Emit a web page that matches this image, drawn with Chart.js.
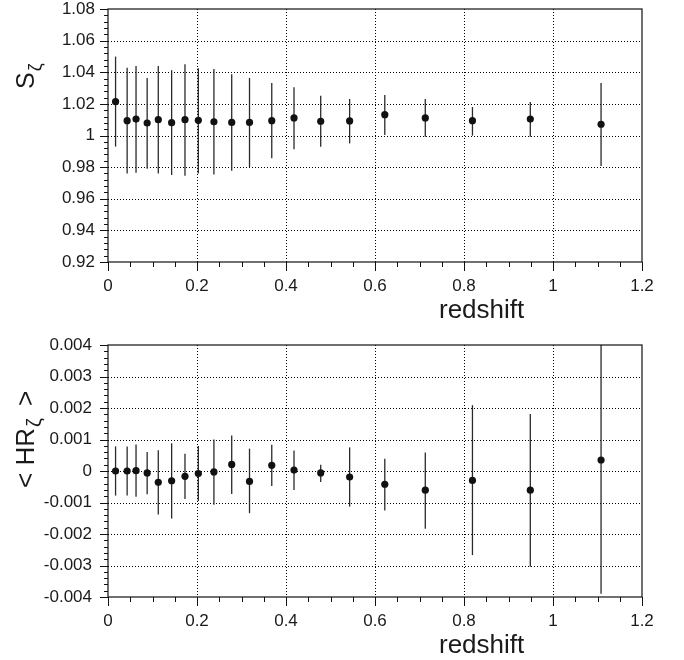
<!DOCTYPE html>
<html>
<head>
<meta charset="utf-8">
<script src="https://cdn.jsdelivr.net/npm/chart.js@4.4.1/dist/chart.umd.min.js"></script>
<style>
  body { margin: 0; background: #fff; }
  #wrap { position: relative; width: 684px; height: 660px; }
  canvas { position: absolute; left: 0; }
</style>
</head>
<body>
<div id="wrap">
  <canvas id="graficoS" width="684" height="330" style="top:0"></canvas>
  <canvas id="graficoHR" width="684" height="330" style="top:330px"></canvas>
</div>
<script>
// redshift de cada bin
const redshift = [0.017, 0.043, 0.063, 0.088, 0.113, 0.143, 0.173, 0.203, 0.238, 0.278,
                  0.318, 0.368, 0.418, 0.478, 0.543, 0.622, 0.713, 0.819, 0.949, 1.108];

// painel de cima: S_zeta com barras de erro
const sZeta   = [1.0214, 1.0094, 1.0104, 1.0079, 1.0100, 1.0081, 1.0100, 1.0096, 1.0087, 1.0083,
                 1.0083, 1.0094, 1.0111, 1.0090, 1.0092, 1.0132, 1.0111, 1.0094, 1.0104, 1.0071];
const sZetaHi = [1.0499, 1.0429, 1.0440, 1.0364, 1.0440, 1.0413, 1.0450, 1.0425, 1.0420, 1.0387,
                 1.0364, 1.0332, 1.0305, 1.0252, 1.0231, 1.0256, 1.0231, 1.0180, 1.0212, 1.0332];
const sZetaLo = [0.9930, 0.9760, 0.9765, 0.9790, 0.9760, 0.9750, 0.9746, 0.9760, 0.9754, 0.9777,
                 0.9800, 0.9856, 0.9913, 0.9929, 0.9950, 1.0003, 0.9992, 0.9999, 0.9992, 0.9807];

// painel de baixo: <HR_zeta> com barras de erro
const hrZeta   = [0, 0, 0.00001, -0.00006, -0.00036, -0.00031, -0.00017, -0.00008, -0.00003, 0.00021,
                  -0.00033, 0.00018, 0.00003, -0.00006, -0.00019, -0.00042, -0.00061, -0.0003, -0.00061, 0.00035];
const hrZetaHi = [0.00078, 0.00078, 0.00084, 0.0006, 0.00066, 0.00088, 0.00055, 0.00079, 0.0010, 0.00113,
                  0.00071, 0.00083, 0.00065, 0.0002, 0.00075, 0.00039, 0.00059, 0.00209, 0.00181, 0.0046];
const hrZetaLo = [-0.00078, -0.00078, -0.00082, -0.00074, -0.00138, -0.00151, -0.00089, -0.00095, -0.00107, -0.00073,
                  -0.00134, -0.00048, -0.0006, -0.00035, -0.00113, -0.00125, -0.00183, -0.00267, -0.00304, -0.0039];

// limites e passos dos eixos
const eixoX = { min: 0, max: 1.2, passo: 0.2, menor: 0.05 };
const eixoS = { min: 0.92, max: 1.08, passo: 0.02, menor: 0.004 };
const eixoHR = { min: -0.004, max: 0.004, passo: 0.001, menor: 0.0002 };

const fonte = '"Liberation Sans", Arial, Helvetica, sans-serif';

function fmt(v) {
    return String(Number(v.toFixed(6)));
}

// Plugin que desenha grade pontilhada, barras de erro, moldura, ticks e titulos
function criarPainel(cfg) {
    return {
        id: 'painel_' + cfg.nome,
        beforeDatasetsDraw(chart) {
            const ctx = chart.ctx, a = chart.chartArea;
            const sx = chart.scales.x, sy = chart.scales.y;
            ctx.save();
            ctx.strokeStyle = '#000';
            ctx.lineWidth = 1;
            ctx.setLineDash([1, 2]);
            sx.ticks.forEach(t => {
                const px = Math.round(sx.getPixelForValue(t.value)) + 0.5;
                if (px > a.left + 2 && px < a.right - 2) {
                    ctx.beginPath(); ctx.moveTo(px, a.top); ctx.lineTo(px, a.bottom); ctx.stroke();
                }
            });
            sy.ticks.forEach(t => {
                const py = Math.round(sy.getPixelForValue(t.value)) + 0.5;
                if (py > a.top + 2 && py < a.bottom - 2) {
                    ctx.beginPath(); ctx.moveTo(a.left, py); ctx.lineTo(a.right, py); ctx.stroke();
                }
            });
            ctx.setLineDash([]);
            // barras de erro
            ctx.beginPath();
            ctx.rect(a.left, a.top, a.width, a.height);
            ctx.clip();
            ctx.strokeStyle = '#2a2a2a';
            ctx.lineWidth = 1.3;
            cfg.x.forEach((z, i) => {
                const px = sx.getPixelForValue(z);
                ctx.beginPath();
                ctx.moveTo(px, sy.getPixelForValue(cfg.hi[i]));
                ctx.lineTo(px, sy.getPixelForValue(cfg.lo[i]));
                ctx.stroke();
            });
            ctx.restore();
        },
        afterDraw(chart) {
            const ctx = chart.ctx, a = chart.chartArea;
            const sx = chart.scales.x, sy = chart.scales.y;
            ctx.save();
            ctx.strokeStyle = '#111';
            ctx.lineWidth = 1.2;
            ctx.strokeRect(a.left, a.top, a.width, a.height);
            ctx.lineWidth = 1;
            // ticks do eixo x (para fora)
            const nx = Math.round((eixoX.max - eixoX.min) / eixoX.menor);
            for (let k = 0; k <= nx; k++) {
                const px = Math.round(sx.getPixelForValue(eixoX.min + k * eixoX.menor)) + 0.5;
                const maior = k % Math.round(eixoX.passo / eixoX.menor) === 0;
                ctx.beginPath(); ctx.moveTo(px, a.bottom); ctx.lineTo(px, a.bottom + (maior ? 9 : 5)); ctx.stroke();
            }
            // ticks do eixo y (para fora)
            const ey = cfg.eixo;
            const n = Math.round((ey.max - ey.min) / ey.menor);
            for (let k = 0; k <= n; k++) {
                const py = Math.round(sy.getPixelForValue(ey.min + k * ey.menor)) + 0.5;
                const maior = k % Math.round(ey.passo / ey.menor) === 0;
                ctx.beginPath(); ctx.moveTo(a.left, py); ctx.lineTo(a.left - (maior ? 8 : 4), py); ctx.stroke();
            }
            // titulo do eixo x
            ctx.fillStyle = '#1a1a1a';
            ctx.font = '26px ' + fonte;
            ctx.textAlign = 'left';
            ctx.textBaseline = 'alphabetic';
            ctx.fillText('redshift', 439, a.bottom + cfg.tituloX);
            // titulo do eixo y, girado, com subscrito zeta
            ctx.translate(34, cfg.tituloY);
            ctx.rotate(-Math.PI / 2);
            ctx.font = cfg.tamanho + 'px ' + fonte;
            ctx.fillText(cfg.antes, 0, 0);
            const w = ctx.measureText(cfg.antes).width;
            ctx.font = cfg.tamanhoZeta + 'px ' + fonte;
            ctx.fillText('\u03B6', w + 1, 7);
            if (cfg.depois) {
                ctx.font = cfg.tamanho + 'px ' + fonte;
                ctx.fillText(cfg.depois, w + cfg.gapDepois, 0);
            }
            ctx.restore();
        }
    };
}

function criarGrafico(id, cfg) {
    const pontos = cfg.x.map((z, i) => ({ x: z, y: cfg.y[i] }));
    return new Chart(document.getElementById(id), {
        type: 'scatter',
        data: {
            datasets: [{
                data: pontos,
                backgroundColor: '#111',
                borderColor: '#111',
                pointRadius: 3.6,
                pointBorderWidth: 0,
                showLine: false,
                clip: false
            }]
        },
        options: {
            responsive: false,
            animation: false,
            devicePixelRatio: 1,
            layout: { padding: { top: cfg.topo, right: 42, bottom: 0, left: 0 } },
            plugins: { legend: { display: false }, tooltip: { enabled: false } },
            scales: {
                x: {
                    type: 'linear', min: eixoX.min, max: eixoX.max,
                    grid: { display: false, drawTicks: false },
                    border: { display: false },
                    ticks: {
                        stepSize: eixoX.passo, padding: 16, color: '#1a1a1a',
                        font: { family: fonte, size: 17, lineHeight: 1 },
                        maxRotation: 0, callback: v => fmt(v)
                    },
                    afterFit: s => { s.height = cfg.alturaX; s.paddingLeft = 0; s.paddingRight = 0; }
                },
                y: {
                    type: 'linear', min: cfg.eixo.min, max: cfg.eixo.max,
                    grid: { display: false, drawTicks: false },
                    border: { display: false },
                    ticks: {
                        stepSize: cfg.eixo.passo, padding: cfg.padY, color: '#1a1a1a',
                        font: { family: fonte, size: 17, lineHeight: 1 },
                        callback: v => fmt(v)
                    },
                    afterFit: s => { s.width = 108; s.paddingTop = 0; s.paddingBottom = 0; }
                }
            }
        },
        plugins: [criarPainel(cfg)]
    });
}

criarGrafico('graficoS', {
    nome: 's', x: redshift, y: sZeta, hi: sZetaHi, lo: sZetaLo, eixo: eixoS,
    topo: 9, alturaX: 68, padY: 13, tituloX: 56, tituloY: 89,
    antes: 'S', depois: '', tamanho: 25, tamanhoZeta: 18, gapDepois: 0
});

criarGrafico('graficoHR', {
    nome: 'hr', x: redshift, y: hrZeta, hi: hrZetaHi, lo: hrZetaLo, eixo: eixoHR,
    topo: 15, alturaX: 63, padY: 16, tituloX: 56, tituloY: 158,
    antes: '< HR', depois: '>', tamanho: 26, tamanhoZeta: 20, gapDepois: 22
});
</script>
</body>
</html>
